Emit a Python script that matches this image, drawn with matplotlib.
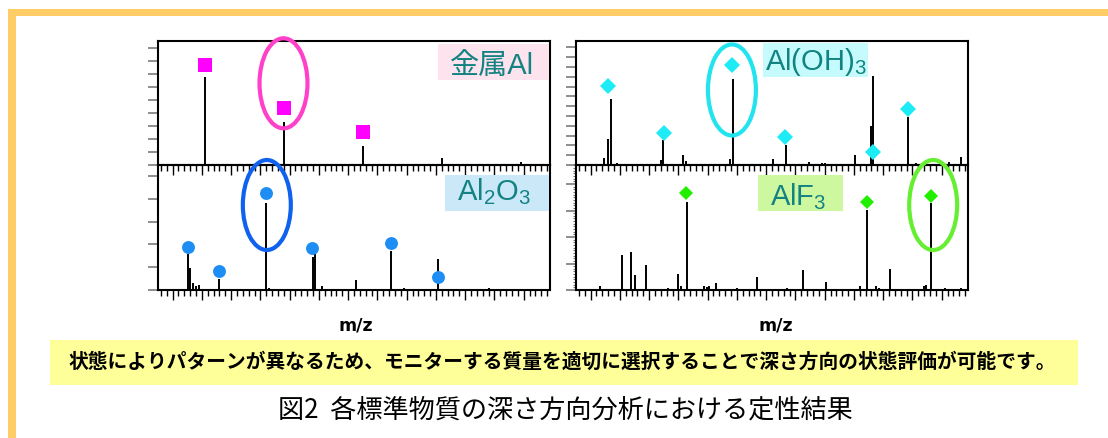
import matplotlib
matplotlib.use("Agg")
import matplotlib.pyplot as plt
from matplotlib.patches import Ellipse, Rectangle
import numpy as np

plt.rcParams['font.family'] = ['Liberation Sans', 'Noto Sans CJK JP', 'DejaVu Sans']
plt.rcParams['mathtext.fontset'] = 'custom'
plt.rcParams['mathtext.rm'] = 'Liberation Sans'
plt.rcParams['mathtext.it'] = 'Liberation Sans:italic'

# ---------------- data (m/z, relative intensity) ----------------
al_metal_mz = [27, 54, 81, 108, 135]
al_metal_int = [70.7, 34.7, 15.6, 5.4, 2.7]
al_metal_mark_mz = [27, 54, 81]
al_metal_mark_int = [80.4, 45.7, 26.4]

aloh3_mz = [20.6, 21.8, 23.0, 24.9, 40.0, 40.7, 47.7, 48.6, 63.7, 64.6, 78.3, 82.9,
            90.7, 95.2, 96.2, 106.5, 111.7, 112.6, 124.4, 127.1, 138.4, 142.5]
aloh3_int = [5.4, 20.7, 53.2, 2.0, 4.0, 20.2, 8.1, 3.5, 5.0, 69.1, 5.0, 16.1,
             2.5, 2.0, 2.0, 8.1, 31.5, 71.8, 39.0, 2.0, 2.5, 6.2]
aloh3_mark_mz = [22.0, 41.1, 64.3, 82.6, 112.6, 124.6]
aloh3_mark_int = [64.0, 25.5, 80.6, 22.3, 10.2, 44.9]

al2o3_mz = [16.8, 19.1, 21.1, 21.9, 23.0, 24.0, 25.0, 31.9, 47.9, 48.9, 63.9, 64.7,
            67.0, 78.8, 90.7, 95.0, 106.8, 124.3]
al2o3_int = [1.0, 1.0, 28.5, 17.9, 5.9, 3.0, 4.0, 8.8, 69.9, 2.0, 26.7, 31.2,
             3.0, 8.0, 31.5, 1.5, 24.8, 1.5]
al2o3_mark_mz = [21.1, 31.9, 47.9, 63.8, 90.8, 106.7]
al2o3_mark_int = [34.7, 15.5, 77.3, 33.3, 37.9, 10.7]

alf3_mz = [19.2, 26.7, 29.8, 31.1, 35.0, 42.6, 45.7, 46.8, 48.9, 54.8, 55.8, 56.5,
           58.9, 66.0, 72.9, 83.1, 88.6, 96.5, 108.2, 110.5, 113.7, 114.7, 118.5,
           129.9, 130.8, 132.5, 137.1, 142.5]
alf3_int = [3.0, 28.0, 30.1, 12.0, 20.0, 2.0, 12.8, 3.0, 70.7, 3.0, 2.5, 3.0,
            5.3, 1.5, 10.1, 1.5, 16.0, 6.7, 3.0, 64.0, 3.0, 2.0, 16.8,
            3.0, 4.0, 69.3, 2.0, 1.5]
alf3_mark_mz = [48.6, 110.5, 132.4]
alf3_mark_int = [77.3, 70.7, 75.2]

panel_labels = ['金属Al', r'Al(OH)$_3$', r'Al$_2$O$_3$', r'AlF$_3$']
xlabel_text = 'm/z'
band_text = '状態によりパターンが異なるため、モニターする質量を適切に選択することで深さ方向の状態評価が可能です。'
caption_text = '図2  各標準物質の深さ方向分析における定性結果'

# ---------------- figure ----------------
W, H = 1108, 438
fig = plt.figure(figsize=(W / 100, H / 100), dpi=100)


def fx(x):
    return x / W


def fy(y):
    return 1 - y / H


def add_axes_px(x0, y0, x1, y1):
    return fig.add_axes([fx(x0), fy(y1), (x1 - x0) / W, (y1 - y0) / H])


def setup(ax, ystep, yminor=None):
    ax.set_xlim(11, 145)
    ax.set_ylim(0, 100)
    ax.set_xticks(np.arange(16, 145, 10))
    ax.set_xticks(np.arange(12, 145, 2), minor=True)
    ax.set_yticks(np.arange(0, 100.01, ystep))
    if yminor:
        ax.set_yticks(np.arange(0, 100.01, yminor), minor=True)
    ax.tick_params(axis='x', which='major', direction='out', length=7, width=1.0,
                   color='black', labelbottom=False)
    ax.tick_params(axis='x', which='minor', direction='out', length=4, width=1.0,
                   color='black')
    ax.tick_params(axis='y', which='major', direction='out', length=7.5, width=1.1,
                   color='#707070', labelleft=False)
    ax.tick_params(axis='y', which='minor', direction='out', length=2.5, width=0.8,
                   color='#707070')
    for s in ax.spines.values():
        s.set_linewidth(1.5)
    ax.patch.set_alpha(0)


ax_tl = add_axes_px(158, 41, 550, 165)
ax_tr = add_axes_px(576, 41, 968, 165)
ax_bl = add_axes_px(158, 165, 550, 290)
ax_br = add_axes_px(576, 165, 968, 290)

setup(ax_tl, 10.45)
setup(ax_tr, 7.9)
setup(ax_bl, 18.24)
setup(ax_br, 21.2, 2.12)

specs = [
    (ax_tl, al_metal_mz, al_metal_int, al_metal_mark_mz, al_metal_mark_int, 's', '#FF00FF', 10.5),
    (ax_tr, aloh3_mz, aloh3_int, aloh3_mark_mz, aloh3_mark_int, 'D', '#1DEBF5', 8.0),
    (ax_bl, al2o3_mz, al2o3_int, al2o3_mark_mz, al2o3_mark_int, 'o', '#1E8EF5', 9.3),
    (ax_br, alf3_mz, alf3_int, alf3_mark_mz, alf3_mark_int, 'D', '#22EE00', 7.4),
]
for ax, mz, inten, mmz, mint, mk, col, ms in specs:
    ax.vlines(mz, 0, inten, color='black', lw=1.4, zorder=3)
    ax.plot(mmz, mint, linestyle='none', marker=mk, color=col, markersize=ms,
            markeredgewidth=0, zorder=4, clip_on=False)

# highlight ellipses
ell = [
    (ax_tl, 53.9, 65.9, 16.4, 72.6, '#FF40C8'),
    (ax_tr, 64.3, 60.5, 16.4, 73.4, '#22E4EE'),
    (ax_bl, 48.2, 68.0, 16.4, 72.0, '#1062EE'),
    (ax_br, 133.1, 68.0, 16.4, 72.0, '#66EE33'),
]
for ax, cx, cy, w, h, col in ell:
    ax.add_patch(Ellipse((cx, cy), w, h, fill=False, ec=col, lw=3, clip_on=False, zorder=6))

# label boxes
boxes = [
    (438, 44, 549, 80, '#FDE3EE'),
    (763, 43, 868, 77, '#C6FBFD'),
    (445, 175, 549, 211, '#CBE8F9'),
    (758, 175, 843, 211, '#CDF8A0'),
]
for x0, y0, x1, y1, col in boxes:
    fig.add_artist(Rectangle((fx(x0), fy(y1)), (x1 - x0) / W, (y1 - y0) / H,
                             transform=fig.transFigure, fc=col, ec='none', zorder=1))

label_pos = [(450, 75), (765, 69.5), (457, 200), (770, 205)]
for (x, y), txt in zip(label_pos, panel_labels):
    fig.text(fx(x), fy(y), txt, ha='left', va='baseline', fontsize=21,
             color='#138282', zorder=2)

# m/z labels
for x in (356, 776):
    fig.text(fx(x), fy(325), xlabel_text, ha='center', va='center', fontsize=12.5,
             fontweight='bold', family=['Liberation Sans Narrow', 'DejaVu Sans'])

# orange frame
fig.add_artist(Rectangle((fx(8), fy(16)), (W - 8) / W, 7 / H, transform=fig.transFigure,
                         fc='#FFCC66', ec='none', zorder=1))
fig.add_artist(Rectangle((fx(8), fy(H)), 8 / W, (H - 9) / H, transform=fig.transFigure,
                         fc='#FFCC66', ec='none', zorder=1))

# yellow band
fig.add_artist(Rectangle((fx(50), fy(385)), (1078 - 50) / W, 45 / H,
                         transform=fig.transFigure, fc='#FFFF99', ec='none', zorder=1))
fig.text(fx(562), fy(362), band_text, ha='center', va='center', fontsize=14.2,
         family=['Noto Sans CJK JP'], fontweight='bold', zorder=2)

fig.text(fx(565), fy(410), caption_text, ha='center', va='center', fontsize=18.8,
         family=['Noto Sans CJK JP'], zorder=2)

fig.savefig('out.png', dpi=100)
